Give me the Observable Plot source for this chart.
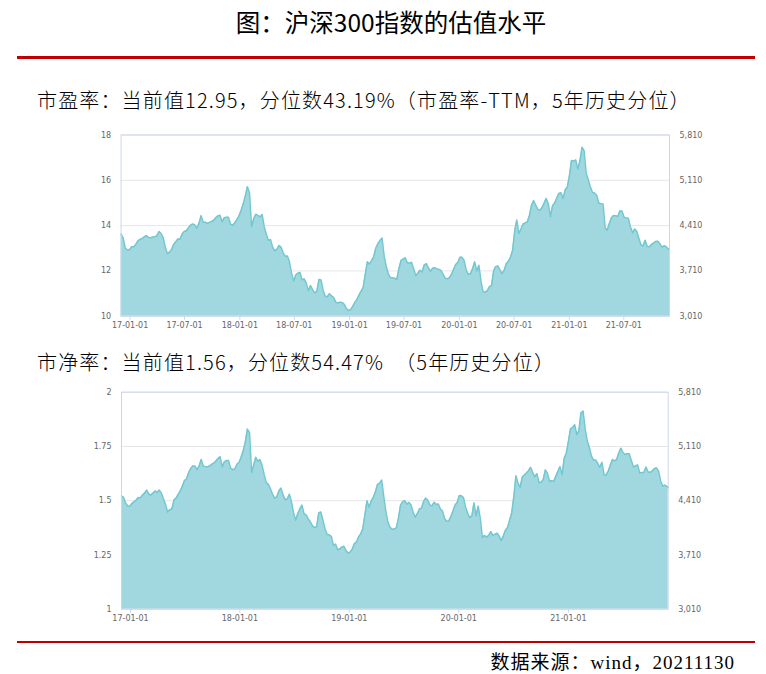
<!DOCTYPE html>
<html><head><meta charset="utf-8">
<script src="https://cdn.jsdelivr.net/npm/d3@7"></script>
<script src="https://cdn.jsdelivr.net/npm/@observablehq/plot@0.6"></script>
<style>
body{margin:0;background:#fff;}
#wrap{position:relative;width:766px;height:674px;overflow:hidden;font-family:"Noto Sans CJK SC",sans-serif;background:#fff;}
.title{position:absolute;left:8px;width:766px;top:6px;line-height:32px;text-align:center;font-size:24.5px;color:#000;}
.rule{position:absolute;left:17px;width:738px;background:#c00000;}
.sub{position:absolute;left:37px;font-size:20px;line-height:24px;color:#000;white-space:pre;letter-spacing:1.15px;font-weight:300;}
.cap{position:absolute;right:31px;top:652px;line-height:22px;font-size:19px;letter-spacing:1px;color:#000;font-family:"Liberation Serif","Noto Sans CJK SC",serif;}
.chart{position:absolute;left:0;}
</style>
</head><body>
<div id="wrap">
  <div class="title">图：沪深300指数的估值水平</div>
  <div class="rule" style="top:56px;height:3px;"></div>
  <div class="sub" style="top:88px;">市盈率：当前值12.95，分位数43.19%（市盈率-TTM，5年历史分位）</div>
  <div class="chart" id="pe" style="top:125px;"></div>
  <div class="sub" style="top:350px;">市净率：当前值1.56，分位数54.47%　（5年历史分位）</div>
  <div class="chart" id="pb" style="top:382px;"></div>
  <div class="rule" style="top:641px;height:2px;"></div>
  <div class="cap">数据来源：wind，20211130</div>
</div>
<script>
// Weekly observations starting 2016-12-02, last value on 2021-11-30
const startDate = "2016-12-02";
const endDate = "2021-11-30";

const peValues = [
13.63,13.45,13.0,12.93,12.93,13.07,13.07,13.17,13.33,13.39,
13.43,13.5,13.56,13.48,13.46,13.5,13.51,13.55,13.74,13.65,
13.47,13.05,12.76,12.83,12.94,13.18,13.29,13.41,13.4,13.63,
13.74,13.77,13.9,14.02,14.07,14.03,13.88,14.1,14.44,14.15,
14.15,14.1,14.14,14.18,14.24,14.35,14.43,14.46,14.17,14.35,
14.37,14.37,14.06,14.02,14.12,14.26,14.42,14.67,14.95,15.3,
15.72,15.45,13.95,14.3,14.5,14.45,14.38,14.49,13.95,13.62,
13.35,13.38,13.05,12.88,12.95,13.12,13.05,12.8,12.65,12.66,
12.4,11.9,11.55,11.82,11.9,11.93,11.6,11.65,11.45,11.13,
11.35,11.17,11.03,11.1,11.62,11.6,11.15,10.88,10.86,10.99,
10.9,10.82,10.62,10.58,10.62,10.61,10.53,10.35,10.25,10.29,
10.42,10.6,10.73,10.93,11.1,11.26,11.85,12.4,12.3,12.45,
12.62,13.0,13.2,13.34,13.45,12.65,12.18,11.86,11.7,11.7,
11.68,11.62,12.1,12.46,12.52,12.58,12.36,12.34,12.38,12.1,
11.79,11.9,12.03,11.95,12.26,12.32,12.14,11.98,12.12,12.14,
12.09,12.07,12.02,11.85,11.68,11.65,11.7,11.85,12.07,12.28,
12.37,12.6,12.6,12.45,12.03,11.85,11.87,12.1,12.4,12.0,
12.25,11.55,11.07,11.07,11.12,11.3,11.35,12.0,12.19,12.22,
12.05,11.88,12.02,12.32,12.43,12.6,12.9,13.75,14.25,13.65,
13.85,14.07,14.12,14.16,14.45,14.9,15.1,14.9,14.72,14.67,
14.8,15.0,15.2,14.95,14.4,14.88,15.0,15.22,15.42,15.45,
15.2,15.58,15.69,16.2,16.87,16.85,16.9,16.5,16.85,17.46,
17.3,16.3,16.02,15.7,15.46,15.44,15.33,15.0,14.97,14.95,
13.9,13.8,14.1,14.35,14.45,14.44,14.4,14.65,14.65,14.37,
14.34,14.33,13.95,13.68,13.85,13.75,13.44,13.15,13.1,13.35,
13.08,13.07,13.17,13.23,13.3,13.31,13.2,13.05,13.11,13.07,
12.97,12.95];

const pbValues = [
1.522,1.515,1.488,1.476,1.475,1.488,1.495,1.503,1.515,1.513,
1.526,1.535,1.549,1.531,1.526,1.535,1.545,1.538,1.549,1.535,
1.509,1.482,1.448,1.458,1.462,1.503,1.512,1.529,1.545,1.567,
1.593,1.6,1.63,1.648,1.66,1.66,1.643,1.66,1.69,1.66,
1.657,1.657,1.66,1.668,1.673,1.683,1.694,1.703,1.656,1.679,
1.685,1.685,1.65,1.643,1.646,1.668,1.676,1.7,1.73,1.77,
1.83,1.815,1.63,1.665,1.7,1.682,1.69,1.663,1.62,1.583,
1.575,1.555,1.529,1.512,1.517,1.545,1.558,1.527,1.505,1.508,
1.53,1.495,1.445,1.41,1.44,1.462,1.48,1.44,1.435,1.416,
1.403,1.385,1.376,1.38,1.444,1.448,1.41,1.37,1.345,1.342,
1.336,1.294,1.3,1.274,1.277,1.286,1.29,1.27,1.259,1.263,
1.277,1.302,1.31,1.333,1.347,1.37,1.435,1.5,1.47,1.497,
1.516,1.54,1.575,1.58,1.595,1.52,1.45,1.4,1.378,1.368,
1.37,1.375,1.42,1.48,1.495,1.5,1.484,1.492,1.48,1.448,
1.424,1.44,1.462,1.466,1.497,1.512,1.502,1.48,1.476,1.493,
1.482,1.485,1.462,1.452,1.418,1.405,1.407,1.427,1.453,1.48,
1.492,1.524,1.523,1.514,1.47,1.442,1.422,1.43,1.49,1.43,
1.475,1.42,1.33,1.34,1.332,1.34,1.357,1.34,1.345,1.35,
1.337,1.316,1.338,1.364,1.377,1.41,1.445,1.52,1.615,1.58,
1.562,1.608,1.618,1.628,1.638,1.654,1.63,1.61,1.625,1.583,
1.585,1.597,1.642,1.627,1.59,1.592,1.589,1.612,1.635,1.657,
1.62,1.695,1.718,1.773,1.831,1.837,1.85,1.805,1.822,1.905,
1.913,1.83,1.775,1.745,1.705,1.687,1.688,1.672,1.654,1.677,
1.62,1.618,1.636,1.664,1.69,1.683,1.69,1.72,1.742,1.722,
1.713,1.716,1.716,1.685,1.655,1.66,1.665,1.628,1.63,1.63,
1.655,1.632,1.631,1.637,1.648,1.651,1.635,1.59,1.567,1.572,
1.566,1.56];

const peYTicks = [10, 12, 14, 16, 18];
const pbYTicks = [1, 1.25, 1.5, 1.75, 2];
const rightLabels = ["3,010", "3,710", "4,410", "5,110", "5,810"];
const peXTicks = ["2017-01-01","2017-07-01","2018-01-01","2018-07-01","2019-01-01","2019-07-01","2020-01-01","2020-07-01","2021-01-01","2021-07-01"];
const pbXTicks = ["2017-01-01","2018-01-01","2019-01-01","2020-01-01","2021-01-01"];

function buildDates(values) {
  const s = new Date(startDate + "T00:00:00Z");
  return values.map((_, i) => i < values.length - 1 ? d3.utcDay.offset(s, 7 * i) : new Date(endDate + "T00:00:00Z"));
}

function makeChart(cfg) {
  const dates = buildDates(cfg.values);
  const data = cfg.values.map((v, i) => ({date: dates[i], v}));
  const yT = cfg.yTicks;
  const fmtX = d3.utcFormat("%y-%m-%d");
  return Plot.plot({
    width: 766,
    height: cfg.height,
    marginLeft: cfg.mL, marginRight: cfg.mR, marginTop: cfg.mT, marginBottom: cfg.mB,
    style: {fontFamily: "DejaVu Sans, sans-serif", fontSize: "8px", color: "#666", background: "transparent"},
    x: {type: "utc", domain: [dates[0], dates[dates.length - 1]], label: null},
    y: {domain: [yT[0], yT[yT.length - 1]], label: null},
    marks: [
      Plot.gridY({ticks: yT, stroke: "#e6e6e6", strokeOpacity: 1, strokeWidth: 1}),
      Plot.areaY(data, {x: "date", y1: yT[0], y2: "v", fill: "#a1d8df", fillOpacity: 1}),
      Plot.lineY(data, {x: "date", y: "v", stroke: "#72c7d0", strokeWidth: 1.5}),
      Plot.frame({stroke: "#ccd6eb", strokeWidth: 1}),
      Plot.axisX({ticks: cfg.xTicks.map(d => new Date(d + "T00:00:00Z")), tickFormat: fmtX, tickSize: 4, tickPadding: 2, stroke: "#ccd6eb", fill: "#666", label: null}),
      Plot.axisY({ticks: yT, anchor: "left", tickSize: 0, tickPadding: 10, tickFormat: d => String(d), fill: "#666", label: null}),
      Plot.axisY({ticks: yT, anchor: "right", tickSize: 0, tickPadding: 10, tickFormat: d => rightLabels[yT.indexOf(d)], fill: "#666", label: null})
    ]
  });
}

document.getElementById("pe").appendChild(makeChart({
  values: peValues, yTicks: peYTicks, xTicks: peXTicks,
  height: 210, mL: 120.6, mR: 97, mT: 9.5, mB: 19.3
}));
document.getElementById("pb").appendChild(makeChart({
  values: pbValues, yTicks: pbYTicks, xTicks: pbXTicks,
  height: 245, mL: 121, mR: 98.3, mT: 9.7, mB: 18.3
}));
</script>
</body></html>
